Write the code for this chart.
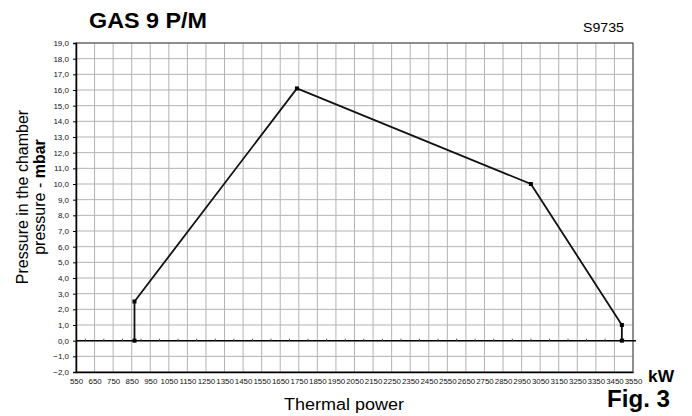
<!DOCTYPE html>
<html>
<head>
<meta charset="utf-8">
<script src="https://cdn.jsdelivr.net/npm/d3@7"></script>
<style>
  body { margin: 0; background: #fff; }
  text { font-family: "Liberation Sans", Arial, sans-serif; }
</style>
</head>
<body>
<div id="root"></div>
<script>
// Size of the picture
const width = 692;
const height = 416;
const margin = { top: 43, right: 59, bottom: 44, left: 76 };

// Data
const powerKW = [865, 865, 1740, 3000, 3490, 3490];
const pressureMbar = [0, 2.5, 16.1, 10.0, 1.0, 0];
const xTicks = d3.range(550, 3551, 100);
const yTicks = d3.range(-2, 19.01, 1);

const svg = d3
  .select("#root")
  .append("svg")
  .attr("width", width)
  .attr("height", height)
  .attr("font-family", "Liberation Sans, Arial, sans-serif");

// Scales
const xScale = d3
  .scaleLinear()
  .domain([550, 3550])
  .range([margin.left, width - margin.right]);

const yScale = d3
  .scaleLinear()
  .domain([-2, 19])
  .range([height - margin.bottom, margin.top]);

// Grid
svg
  .append("g")
  .selectAll("line")
  .data(xTicks.slice(1))
  .enter()
  .append("line")
  .attr("x1", d => xScale(d))
  .attr("x2", d => xScale(d))
  .attr("y1", yScale(19))
  .attr("y2", yScale(-2))
  .attr("stroke", "#b3b3b3")
  .attr("stroke-width", 1);

svg
  .append("g")
  .selectAll("line")
  .data(yTicks.slice(1))
  .enter()
  .append("line")
  .attr("x1", xScale(550))
  .attr("x2", xScale(3550))
  .attr("y1", d => yScale(d))
  .attr("y2", d => yScale(d))
  .attr("stroke", "#b3b3b3")
  .attr("stroke-width", 1);

// Frame: top and right thin
svg
  .append("rect")
  .attr("x", xScale(550))
  .attr("y", yScale(19))
  .attr("width", xScale(3550) - xScale(550))
  .attr("height", yScale(-2) - yScale(19))
  .attr("fill", "none")
  .attr("stroke", "#444")
  .attr("stroke-width", 1);

// Axes
const xAxis = d3
  .axisBottom(xScale)
  .tickValues(xTicks)
  .tickSize(0)
  .tickPadding(6)
  .tickFormat(d3.format("d"));

const yAxis = d3
  .axisLeft(yScale)
  .tickValues(yTicks)
  .tickSize(3)
  .tickPadding(4)
  .tickFormat(d => d3.format(".1f")(d).replace(".", ","));

const gx = svg
  .append("g")
  .attr("transform", "translate(0," + yScale(-2) + ")")
  .call(xAxis)
  .attr("font-family", null);

const gy = svg
  .append("g")
  .attr("transform", "translate(" + xScale(550) + ",0)")
  .call(yAxis)
  .attr("font-family", null);

gx.select(".domain").attr("stroke", "#000").attr("stroke-width", 1.5);
gy.select(".domain").attr("stroke", "#000").attr("stroke-width", 1.5);
gx.selectAll("text").attr("font-size", 7.9).attr("fill", "#111");
gy.selectAll("text").attr("font-size", 8).attr("fill", "#111");

// Zero line with small ticks
svg
  .append("line")
  .attr("x1", xScale(550))
  .attr("x2", xScale(3550) + 3)
  .attr("y1", yScale(0))
  .attr("y2", yScale(0))
  .attr("stroke", "#000")
  .attr("stroke-width", 1.5);

svg
  .append("g")
  .selectAll("line")
  .data(d3.range(600, 3550, 100))
  .enter()
  .append("line")
  .attr("x1", d => xScale(d))
  .attr("x2", d => xScale(d))
  .attr("y1", yScale(0) - 2)
  .attr("y2", yScale(0))
  .attr("stroke", "#555")
  .attr("stroke-width", 1);

// Curve
const points = powerKW.map((p, i) => ({ p: p, v: pressureMbar[i] }));

const line = d3
  .line()
  .x(d => xScale(d.p))
  .y(d => yScale(d.v));

svg
  .append("path")
  .datum(points)
  .attr("fill", "none")
  .attr("stroke", "#111")
  .attr("stroke-width", 1.8)
  .attr("d", line);

svg
  .append("g")
  .selectAll("rect")
  .data(points)
  .enter()
  .append("rect")
  .attr("x", d => xScale(d.p) - 2)
  .attr("y", d => yScale(d.v) - 2)
  .attr("width", 4)
  .attr("height", 4)
  .attr("fill", "#000");

// Texts
svg
  .append("text")
  .attr("x", 89)
  .attr("y", 28)
  .attr("font-size", 22)
  .attr("font-weight", "bold")
  .attr("textLength", 118)
  .attr("lengthAdjust", "spacingAndGlyphs")
  .text("GAS 9 P/M");

svg
  .append("text")
  .attr("x", 583)
  .attr("y", 32)
  .attr("font-size", 13.5)
  .attr("textLength", 41)
  .attr("lengthAdjust", "spacingAndGlyphs")
  .text("S9735");

svg
  .append("text")
  .attr("x", 284)
  .attr("y", 410)
  .attr("font-size", 16)
  .attr("textLength", 120)
  .attr("lengthAdjust", "spacingAndGlyphs")
  .text("Thermal power");

svg
  .append("text")
  .attr("x", 648)
  .attr("y", 382)
  .attr("font-size", 16)
  .attr("font-weight", "bold")
  .attr("textLength", 26)
  .attr("lengthAdjust", "spacingAndGlyphs")
  .text("kW");

svg
  .append("text")
  .attr("x", 607)
  .attr("y", 407)
  .attr("font-size", 23)
  .attr("font-weight", "bold")
  .attr("textLength", 63)
  .attr("lengthAdjust", "spacingAndGlyphs")
  .text("Fig. 3");

const yTitle = svg
  .append("text")
  .attr("transform", "translate(0,197) rotate(-90)")
  .attr("text-anchor", "middle")
  .attr("font-size", 16);

yTitle.append("tspan").attr("x", 0).attr("y", 28).text("Pressure in the chamber");

const line2 = yTitle.append("tspan").attr("x", 0).attr("y", 45);
line2.append("tspan").text("pressure - ");
line2.append("tspan").attr("font-weight", "bold").text("mbar");
</script>
</body>
</html>
